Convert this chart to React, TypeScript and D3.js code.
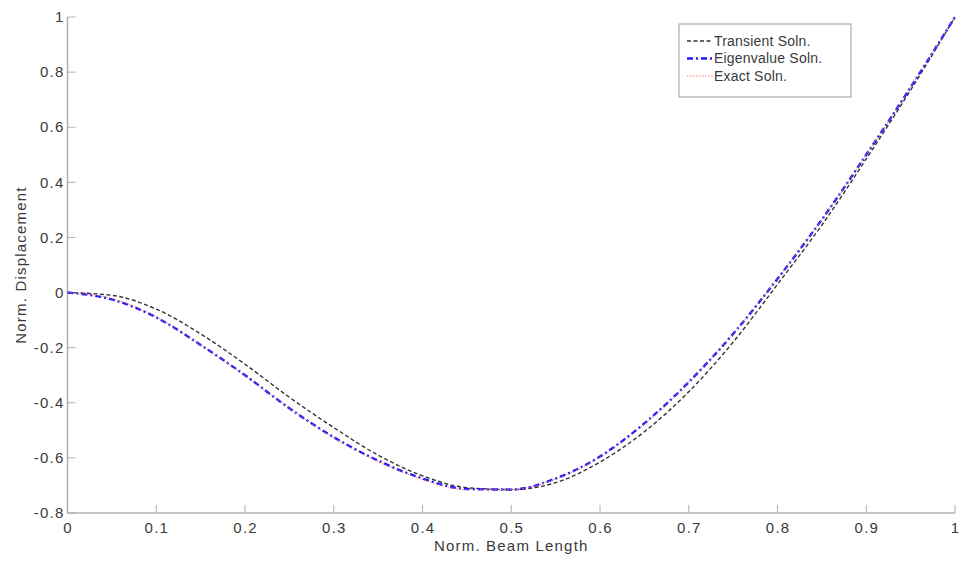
import React from "react";
import * as d3 from "d3";

const xs = [0, 0.05, 0.1, 0.15, 0.2, 0.25, 0.3, 0.35, 0.4, 0.45, 0.5, 0.55, 0.6, 0.65, 0.7, 0.75, 0.8, 0.85, 0.9, 0.95, 1.0];
const transient = [0, -0.01, -0.06, -0.15, -0.26, -0.38, -0.49, -0.59, -0.665, -0.708, -0.715, -0.69, -0.615, -0.505, -0.36, -0.18, 0.03, 0.245, 0.485, 0.735, 1.0];
const eigen = [0, -0.025, -0.09, -0.19, -0.3, -0.42, -0.525, -0.61, -0.675, -0.713, -0.715, -0.675, -0.595, -0.475, -0.325, -0.15, 0.05, 0.265, 0.5, 0.745, 1.0];
const exact = [0, -0.022, -0.088, -0.19, -0.302, -0.42, -0.527, -0.613, -0.678, -0.715, -0.715, -0.677, -0.598, -0.478, -0.325, -0.15, 0.05, 0.265, 0.5, 0.745, 1.0];
const xTicks = [0, 0.1, 0.2, 0.3, 0.4, 0.5, 0.6, 0.7, 0.8, 0.9, 1];
const yTicks = [-0.8, -0.6, -0.4, -0.2, 0, 0.2, 0.4, 0.6, 0.8, 1];
const seriesNames = ["Transient Soln.", "Eigenvalue Soln.", "Exact Soln."];

export default function App() {
  const W = 962, H = 561;
  const left = 67.5, right = 955, top = 17, bottom = 513;
  const x = d3.scaleLinear().domain([0, 1]).range([left, right]);
  const y = d3.scaleLinear().domain([-0.8, 1]).range([bottom, top]);
  const line = (vals: number[]) =>
    d3.line<number>().x((_, i) => x(xs[i])).y((v) => y(v)).curve(d3.curveMonotoneX)(vals) || "";
  const axisColor = "#b0b0b0";
  const textColor = "#3a3a3a";
  const font = "Liberation Sans, Arial, sans-serif";
  const styles = [
    { stroke: "#111", width: 1.4, dash: "4,2.5", opacity: 0.85 },
    { stroke: "#1a1aff", width: 2.4, dash: "6,3,2,3", opacity: 1 },
    { stroke: "#ff7070", width: 1, dash: "1.5,1.5", opacity: 0.9 },
  ];
  const data = [transient, eigen, exact];
  const legX = 679, legY = 24, legW = 172, legH = 73;
  return (
    <svg width={W} height={H} style={{ position: "absolute", left: 0, top: 0, background: "#fff" }} fontFamily={font}>
      <rect x={0} y={0} width={W} height={H} fill="#fff" />
      {/* axes */}
      <line x1={left} y1={top} x2={left} y2={bottom} stroke={axisColor} strokeWidth={1.5} />
      <line x1={left} y1={bottom} x2={right} y2={bottom} stroke={axisColor} strokeWidth={1.5} />
      {yTicks.map((t) => (
        <g key={"y" + t}>
          <line x1={left} x2={left + 8} y1={y(t)} y2={y(t)} stroke={axisColor} strokeWidth={1} />
          <text x={left - 3} y={y(t)} dy="0.35em" textAnchor="end" fontSize={15} letterSpacing={1.2} fill={textColor}>
            {String(t)}
          </text>
        </g>
      ))}
      {xTicks.map((t) => (
        <g key={"x" + t}>
          <line x1={x(t)} x2={x(t)} y1={bottom} y2={bottom - 8} stroke={axisColor} strokeWidth={1} />
          <text x={x(t) + 0.6} y={bottom + 15} dy="0.35em" textAnchor="middle" fontSize={15} letterSpacing={1.2} fill={textColor}>
            {String(t)}
          </text>
        </g>
      ))}
      <text x={(left + right) / 2} y={551} textAnchor="middle" fontSize={15} letterSpacing={1.2} fill={textColor}>
        Norm. Beam Length
      </text>
      <text
        transform={`translate(26,${(top + bottom) / 2}) rotate(-90)`}
        textAnchor="middle"
        fontSize={15}
        letterSpacing={1.2}
        fill={textColor}
      >
        Norm. Displacement
      </text>
      {/* curves */}
      {data.map((vals, i) => (
        <path
          key={"c" + i}
          d={line(vals)}
          fill="none"
          stroke={styles[i].stroke}
          strokeWidth={styles[i].width}
          strokeDasharray={styles[i].dash}
          opacity={styles[i].opacity}
        />
      ))}
      {/* legend */}
      <rect x={legX} y={legY} width={legW} height={legH} fill="#fff" stroke="#999" strokeWidth={1} />
      {seriesNames.map((name, i) => {
        const ly = 41 + i * 17.5;
        return (
          <g key={"l" + i}>
            <line
              x1={687}
              x2={713}
              y1={ly}
              y2={ly}
              stroke={styles[i].stroke}
              strokeWidth={styles[i].width}
              strokeDasharray={styles[i].dash}
              opacity={styles[i].opacity}
            />
            <text x={714} y={ly} dy="0.35em" fontSize={14} letterSpacing={0.2} fill={textColor}>
              {name}
            </text>
          </g>
        );
      })}
    </svg>
  );
}
